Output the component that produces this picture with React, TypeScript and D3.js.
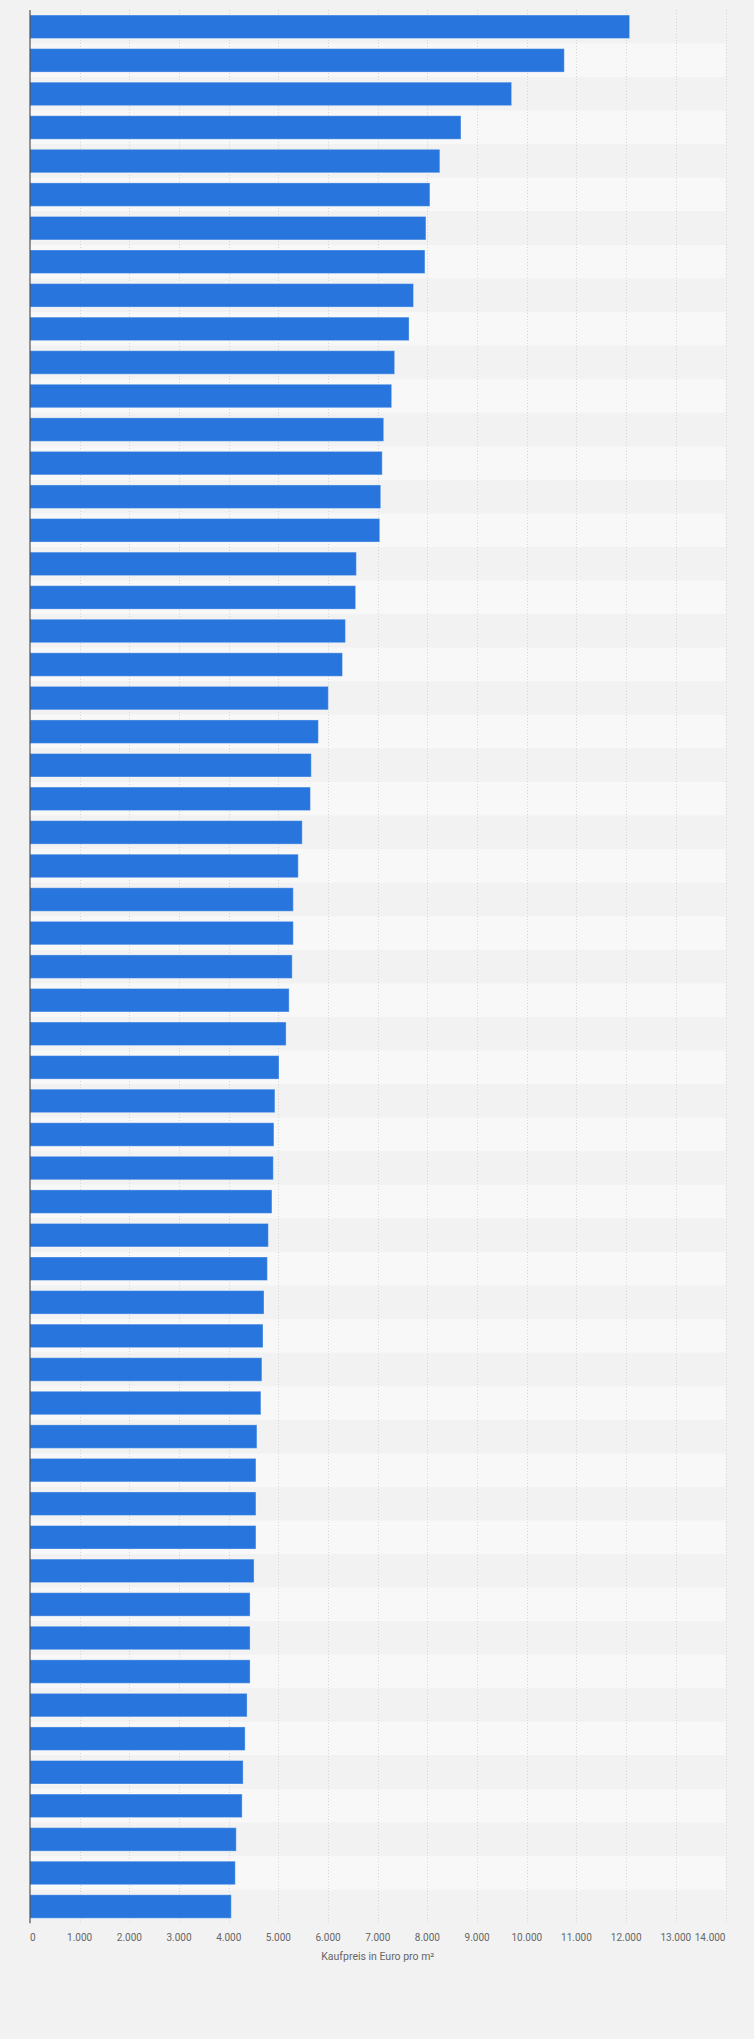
import * as d3 from "d3";
import React, { useEffect, useRef } from "react";

// Kaufpreis in Euro pro m², absteigend sortiert
const prices: number[] = [
  12070, 10755, 9695, 8675, 8250, 8050, 7970, 7950, 7720, 7630,
  7340, 7280, 7120, 7090, 7060, 7040, 6570, 6555, 6350, 6290,
  6005, 5805, 5662, 5645, 5480, 5400, 5300, 5300, 5278, 5216,
  5155, 5012, 4930, 4910, 4898, 4870, 4798, 4778, 4710, 4690,
  4668, 4648, 4568, 4548, 4548, 4548, 4510, 4430, 4430, 4430,
  4370, 4330, 4290, 4270, 4152, 4132, 4052,
];

const xTicks: number[] = [0, 1000, 2000, 3000, 4000, 5000, 6000, 7000, 8000, 9000, 10000, 11000, 12000, 13000, 14000];

const axisTitle = "Kaufpreis in Euro pro m²";

const W = 754;
const H = 2039;

const deLocale = d3.formatLocale({ decimal: ",", thousands: ".", grouping: [3], currency: ["", " €"] });
const fmt = deLocale.format(",d");

const App: React.FC = () => {
  const ref = useRef<SVGSVGElement>(null);

  useEffect(() => {
    const margin = { top: 10, left: 30, right: 28.5, bottom: 115.7 };
    const x0 = margin.left;
    const x1 = W - margin.right;
    const y0 = margin.top;
    const y1 = H - margin.bottom;

    const svg = d3.select(ref.current).html("");

    svg.append("rect").attr("width", W).attr("height", H).attr("fill", "#f2f2f2");

    const idx = prices.map((_, i) => String(i));

    const x = d3.scaleLinear().domain([0, 14000]).range([x0, x1]);
    const y = d3.scaleBand().domain(idx).range([y0, y1]).paddingInner(0.3).paddingOuter(0.15);
    const row = d3.scaleBand().domain(idx).range([y0, y1]).padding(0);

    // Zebrastreifen
    svg
      .append("g")
      .selectAll("rect")
      .data(idx)
      .enter()
      .append("rect")
      .attr("x", x0)
      .attr("y", (d) => row(d)!)
      .attr("width", x1 - x0)
      .attr("height", row.bandwidth())
      .attr("fill", (_, i) => (i % 2 === 0 ? "#f2f2f2" : "#f8f8f8"));

    // Gitterlinien
    svg
      .append("g")
      .selectAll("line")
      .data(xTicks.filter((t) => t > 0))
      .enter()
      .append("line")
      .attr("x1", (d) => Math.round(x(d)) + 0.5)
      .attr("x2", (d) => Math.round(x(d)) + 0.5)
      .attr("y1", y0)
      .attr("y2", y1)
      .attr("stroke", "#d6d6d6")
      .attr("stroke-width", 1)
      .attr("stroke-dasharray", "1,2");

    // Balken
    svg
      .append("g")
      .selectAll("rect")
      .data(prices)
      .enter()
      .append("rect")
      .attr("x", x(0))
      .attr("y", (_, i) => y(String(i))!)
      .attr("width", (d) => x(d) - x(0))
      .attr("height", y.bandwidth())
      .attr("fill", "#2876dd")
      .attr("stroke", "rgba(255,255,255,0.35)")
      .attr("stroke-width", 1);

    // Achsenlinie
    svg
      .append("line")
      .attr("x1", x0)
      .attr("x2", x0)
      .attr("y1", y0)
      .attr("y2", y1)
      .attr("stroke", "#333333")
      .attr("stroke-width", 1);

    // Achsenbeschriftung
    svg
      .append("g")
      .selectAll("text")
      .data(xTicks)
      .enter()
      .append("text")
      .attr("x", (d) => x(d))
      .attr("y", y1 + 18)
      .attr("text-anchor", (_, i) => (i === 0 ? "start" : i === xTicks.length - 1 ? "end" : "middle"))
      .attr("font-family", "Roboto, 'Noto Sans', sans-serif")
      .attr("font-size", 10)
      .attr("fill", "#666666")
      .text((d) => fmt(d));

    svg
      .append("text")
      .attr("x", (x0 + x1) / 2)
      .attr("y", y1 + 37)
      .attr("text-anchor", "middle")
      .attr("font-family", "Roboto, 'Noto Sans', sans-serif")
      .attr("font-size", 10.5)
      .attr("fill", "#666666")
      .text(axisTitle);
  }, []);

  return (
    <div style={{ position: "absolute", left: 0, top: 0 }}>
      <svg ref={ref} width={W} height={H} style={{ display: "block" }}></svg>
    </div>
  );
};

export default App;
